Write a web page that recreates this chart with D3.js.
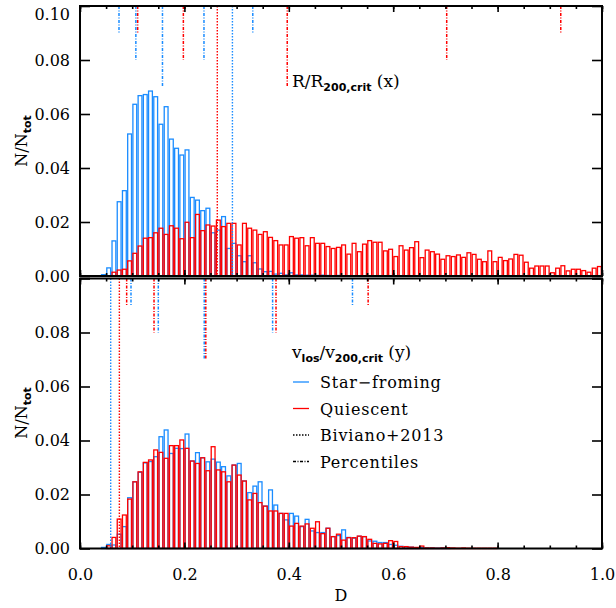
<!DOCTYPE html>
<html><head><meta charset="utf-8">
<script src="https://cdn.jsdelivr.net/npm/d3@7"></script>
<style>body{margin:0;background:#fff}svg{display:block}text{font-family:"DejaVu Serif",serif;fill:#000}</style>
</head><body><svg id="c" width="616" height="608"></svg>
<script>
const BIN = 0.01;
// Top panel: R/R200,crit (x)
const topSFStart = 0.04;
const topSF = [0.0005,0.003,0.013,0.0275,0.0316,0.0526,0.0636,0.0668,0.0672,0.0685,0.0664,0.0562,0.0627,0.0507,0.0473,0.0448,0.0467,0.0291,0.0281,0.0242,0.0251,0.016,0.017,0.022,0.0102,0.0121,0.0075,0.0053,0.0075,0.0049,0.0026,0.0016,0.0017,0.0007,0.001,0.0004,0.0012,0.0004,0.0004,0.0003,0.0003,0.0002,0.0003,0.0002,0.0001,0.0002,0.0001];
const topQStart = 0.06;
const topQ = [0.0014,0.0022,0.0025,0.0056,0.0084,0.0111,0.014,0.0142,0.016,0.0177,0.0154,0.0186,0.0177,0.0138,0.0199,0.0142,0.0228,0.0168,0.0189,0.0185,0.0207,0.0183,0.0195,0.0195,0.0115,0.0195,0.0177,0.017,0.0154,0.0164,0.0143,0.0131,0.0115,0.0115,0.0146,0.014,0.0142,0.0112,0.0142,0.0121,0.0121,0.0109,0.0102,0.0106,0.0115,0.0081,0.0121,0.009,0.0118,0.0131,0.0125,0.0125,0.0093,0.0099,0.0072,0.0112,0.0096,0.0105,0.0127,0.0068,0.0096,0.009,0.0081,0.0062,0.0075,0.0072,0.0078,0.0069,0.0086,0.008,0.0062,0.0053,0.0093,0.0053,0.0069,0.0057,0.0063,0.008,0.0077,0.0051,0.0029,0.0037,0.0037,0.0037,0.0012,0.0029,0.0038,0.0019,0.0025,0.0025,0.002,0.0014,0.0029,0.0035];
// Bottom panel: v_los/v200,crit (y)
const botSFStart = 0.04;
const botSF = [0.0004,0.0015,0.0013,0.0053,0.0081,0.0188,0.0247,0.0282,0.0317,0.0322,0.034,0.0414,0.0439,0.0352,0.0371,0.037,0.0424,0.0324,0.0355,0.0336,0.0321,0.0331,0.032,0.0303,0.0269,0.0309,0.0315,0.025,0.0207,0.0231,0.0247,0.0157,0.0217,0.0161,0.013,0.0106,0.013,0.012,0.0081,0.0108,0.0065,0.0059,0.0059,0.0075,0.0044,0.0048,0.0069,0.0041,0.0038,0.0045,0.0044,0.0028,0.0027,0.0022,0.0022,0.0015,0.0012,0.0008,0.0006,0.0005,0.0003,0.0004,0.0002,0.0002,0.0001,0.0002,0.0001];
const botQStart = 0.05;
const botQ = [0.001,0.0041,0.0109,0.0124,0.0183,0.0247,0.0284,0.0319,0.0328,0.0365,0.0356,0.0334,0.0381,0.0381,0.0402,0.0371,0.0324,0.0315,0.0336,0.0288,0.0377,0.0291,0.0284,0.0247,0.0309,0.0272,0.025,0.018,0.0204,0.017,0.0157,0.0139,0.0139,0.013,0.013,0.0083,0.0093,0.0083,0.0091,0.0075,0.0099,0.0055,0.0075,0.0044,0.0053,0.0031,0.004,0.004,0.0046,0.0044,0.0034,0.0019,0.0017,0.0019,0.0029,0.0026,0.0007,0.0007,0.0005,0.0004,0.0009,0.0002,0.0002,0.0001,0.0002,0.0003,0.0002,0.0001,0.0002,0.0001,0.0001,0.0001,0.0001,0.0001,0.0001];
// Percentile markers (x positions) and their lower ends (y values)
const pctEnds = [0.09, 0.08, 0.07, 0.08, 0.09];
const topSFPct = [0.0747, 0.107, 0.158, 0.2375, 0.331];
const topQPct = [0.1105, 0.198, 0.397, 0.7025, 0.921];
const botSFPct = [0.0977, 0.150, 0.238, 0.369, 0.522];
const botQPct = [0.0894, 0.1418, 0.241, 0.3755, 0.552];
// Biviano+2013
const topBiviano = {sf: 0.292, q: 0.263};
const botBiviano = {sf: 0.0588, q: 0.0754};
const xTickLabels = ["0.0","0.2","0.4","0.6","0.8","1.0"];
const yTickValues = [0, 0.02, 0.04, 0.06, 0.08, 0.10];
const legendLabels = ["Star\u2212froming", "Quiescent", "Biviano+2013", "Percentiles"];

const BLUE = "#1a8cff", RED = "#ff0000";
const svg = d3.select("#c");
const x = d3.scaleLinear().domain([0, 1]).range([80, 602]);
const yTop = d3.scaleLinear().domain([0, 0.1]).range([276, 6]);
const yBot = d3.scaleLinear().domain([0, 0.1]).range([548.5, 278.5]);

function hist(y, start, vals, color) {
  const data = vals.map((v, i) => ({x0: +(start + i * BIN).toFixed(4), v}));
  svg.append("g").selectAll("rect").data(data).join("rect")
    .attr("x", d => x(d.x0) + 0.7)
    .attr("width", d => x(d.x0 + BIN) - x(d.x0) - 1.4)
    .attr("y", d => y(d.v))
    .attr("height", d => y(0) - y(d.v))
    .attr("fill", "none").attr("stroke", color).attr("stroke-width", 1.3);
}
function markers(y, pcts, biv, color) {
  const g = svg.append("g");
  pcts.forEach((p, i) => {
    g.append("line").attr("x1", x(p)).attr("x2", x(p))
      .attr("y1", y(0.1)).attr("y2", y(pctEnds[i]))
      .attr("stroke", color).attr("stroke-width", 1.5).attr("stroke-dasharray", "3,1.5,1,1.5");
  });
  g.append("line").attr("x1", x(biv)).attr("x2", x(biv))
    .attr("y1", y(0.1)).attr("y2", y(0))
    .attr("stroke", color).attr("stroke-width", 1.4).attr("stroke-dasharray", "1.5,1.5");
}
function axes(y, isBottom) {
  const major = d3.range(0, 1.0001, 0.2);
  const minor = d3.range(0, 1.0001, 0.05);
  const gb = svg.append("g").attr("transform", `translate(0,${y(0)})`)
    .call(d3.axisBottom(x).tickValues(minor).tickSize(-3).tickSizeOuter(0).tickFormat(""));
  gb.select(".domain").remove();
  const gb2 = svg.append("g").attr("transform", `translate(0,${y(0)})`)
    .call(d3.axisBottom(x).tickValues(major).tickSize(-6).tickSizeOuter(0).tickPadding(20)
      .tickFormat((d, i) => isBottom ? xTickLabels[i] : ""));
  gb2.select(".domain").remove();
  const gt = svg.append("g").attr("transform", `translate(0,${y(0.1)})`)
    .call(d3.axisTop(x).tickValues(minor).tickSize(-3).tickSizeOuter(0).tickFormat(""));
  gt.select(".domain").remove();
  const gt2 = svg.append("g").attr("transform", `translate(0,${y(0.1)})`)
    .call(d3.axisTop(x).tickValues(major).tickSize(-6).tickSizeOuter(0).tickFormat(""));
  gt2.select(".domain").remove();
  const yl = svg.append("g").attr("transform", `translate(${x(0)},0)`)
    .call(d3.axisLeft(y).tickValues(yTickValues).tickSize(-10).tickSizeOuter(0).tickPadding(10)
      .tickFormat(d => (isBottom && d > 0.09) ? "" : d3.format(".2f")(d)));
  yl.select(".domain").remove();
  yl.selectAll(".tick text").each(function(d) {
    if (d > 0.09) d3.select(this).attr("dy", "0.85em");
  });
  const yr = svg.append("g").attr("transform", `translate(${x(1)},0)`)
    .call(d3.axisRight(y).tickValues(yTickValues).tickSize(-10).tickSizeOuter(0).tickFormat(""));
  yr.select(".domain").remove();
  svg.selectAll(".tick line").attr("stroke", "#000").attr("stroke-width", 1.6);
  svg.selectAll(".tick text").attr("font-family", "DejaVu Serif").attr("font-size", 16).attr("fill", "#000");
  svg.append("rect").attr("x", x(0)).attr("y", y(0.1)).attr("width", x(1) - x(0)).attr("height", y(0) - y(0.1))
    .attr("fill", "none").attr("stroke", "#000").attr("stroke-width", 2);
}

hist(yTop, topSFStart, topSF, BLUE);
hist(yTop, topQStart, topQ, RED);
markers(yTop, topSFPct, topBiviano.sf, BLUE);
markers(yTop, topQPct, topBiviano.q, RED);
axes(yTop, false);
hist(yBot, botSFStart, botSF, BLUE);
hist(yBot, botQStart, botQ, RED);
markers(yBot, botSFPct, botBiviano.sf, BLUE);
markers(yBot, botQPct, botBiviano.q, RED);
axes(yBot, true);

function ylab(cy) {
  const t = svg.append("text").attr("transform", `translate(27,${cy}) rotate(-90)`)
    .attr("text-anchor", "middle").attr("font-size", 16);
  t.append("tspan").text("N/N");
  t.append("tspan").attr("dy", 4).attr("font-size", 11).attr("font-weight", "bold")
    .attr("font-family", "DejaVu Sans").text("tot");
}
ylab(141);
ylab(413);
svg.append("text").attr("x", x(0.5)).attr("y", 601).attr("text-anchor", "middle").attr("font-size", 16).text("D");

const t1 = svg.append("text").attr("x", 292).attr("y", 87).attr("font-size", 17);
t1.append("tspan").text("R/R");
t1.append("tspan").attr("dy", 4).attr("font-size", 11).attr("font-weight", "bold").attr("font-family", "DejaVu Sans").text("200,crit");
t1.append("tspan").attr("dy", -4).text("\u00a0(x)");
const t2 = svg.append("text").attr("x", 292).attr("y", 358).attr("font-size", 17);
t2.append("tspan").text("v");
t2.append("tspan").attr("dy", 4).attr("font-size", 11).attr("font-weight", "bold").attr("font-family", "DejaVu Sans").text("los");
t2.append("tspan").attr("dy", -4).text("/v");
t2.append("tspan").attr("dy", 4).attr("font-size", 11).attr("font-weight", "bold").attr("font-family", "DejaVu Sans").text("200,crit");
t2.append("tspan").attr("dy", -4).text("\u00a0(y)");

const legStyles = [
  {c: BLUE, d: null}, {c: RED, d: null}, {c: "#000", d: "1.5,1.5"}, {c: "#000", d: "3,1.5,1,1.5"}
];
legendLabels.forEach((lab, i) => {
  const cy = 382 + i * 26.5;
  svg.append("line").attr("x1", 293).attr("x2", 309).attr("y1", cy).attr("y2", cy)
    .attr("stroke", legStyles[i].c).attr("stroke-width", 1.3)
    .attr("stroke-dasharray", legStyles[i].d);
  svg.append("text").attr("x", 320).attr("y", cy + 6).attr("font-size", 16).attr("letter-spacing", 0.8).text(lab);
});
</script></body></html>
